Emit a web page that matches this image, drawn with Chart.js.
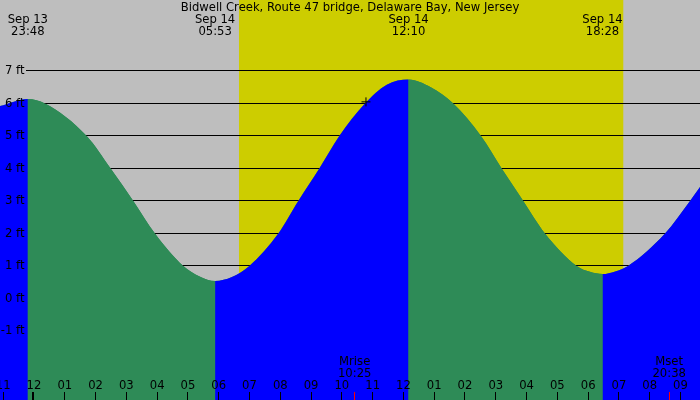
<!DOCTYPE html>
<html><head><meta charset="utf-8">
<script src="https://cdn.jsdelivr.net/npm/chart.js@4"></script>
<style>html,body{margin:0;padding:0;background:#bebebe}#wrap{width:700px;height:400px;position:relative}</style>
</head><body><div id="wrap"><canvas id="c"></canvas></div>
<script>
const TITLE = "Bidwell Creek, Route 47 bridge, Delaware Bay, New Jersey";
// times in hours relative to Sep 14 00:00, heights in ft
const tideTimes   = [-1.104, -0.2, 0.357, 1.712, 2.491, 3.226, 3.930, 4.850, 5.38, 5.883, 6.43, 6.994, 7.936, 8.585, 9.268, 9.917, 10.752, 11.46, 12.167, 12.89, 13.620, 14.520, 15.192, 15.894, 16.599, 17.629, 18.06, 18.467, 18.88, 19.295, 20.497, 21.309, 21.634];
const tideHeights = [5.92, 6.14, 6.0, 5.0, 4.0, 3.0, 2.0, 1.0, 0.68, 0.54, 0.66, 1.0, 2.0, 3.0, 4.0, 5.0, 6.0, 6.58, 6.74, 6.50, 6.0, 5.0, 4.0, 3.0, 2.0, 1.0, 0.82, 0.75, 0.83, 1.0, 2.0, 3.0, 3.43];
const extremeHours = [-0.2, 5.883, 12.167, 18.467];
const extremeDates = ["Sep 13", "Sep 14", "Sep 14", "Sep 14"];
const extremeTimes = ["23:48", "05:53", "12:10", "18:28"];
const hourTicks  = [-1,0,1,2,3,4,5,6,7,8,9,10,11,12,13,14,15,16,17,18,19,20,21];
const hourLabels = ["11","12","01","02","03","04","05","06","07","08","09","10","11","12","01","02","03","04","05","06","07","08","09"];
const depthTicks  = [-1,0,1,2,3,4,5,6,7];
const depthLabels = ["-1 ft","0 ft","1 ft","2 ft","3 ft","4 ft","5 ft","6 ft","7 ft"];
const sunRise = 6.659, sunSet = 19.142;
const moonEvents = [{name:"Mrise", time:"10:25", hour:10.417},{name:"Mset", time:"20:38", hour:20.633}];
const nowPoint = {x:10.784, y:6.05};

const BLUE = '#0000ff', GREEN = '#2e8b57', GREY = '#bebebe', YELLOW = '#cdcd00';
const FONT = '11.6px "DejaVu Sans"';
const tidePoints = tideTimes.map((t,i)=>({x:t, y:tideHeights[i]}));

const decor = {
  id:'decor',
  beforeDraw(chart){
    const {ctx, scales:{x}} = chart;
    ctx.save();
    ctx.fillStyle = GREY; ctx.fillRect(0,0,chart.width,chart.height);
    const x0 = x.getPixelForValue(sunRise), x1 = x.getPixelForValue(sunSet);
    ctx.fillStyle = YELLOW; ctx.fillRect(x0,0,x1-x0,chart.height);
    ctx.restore();
  },
  afterDatasetsDraw(chart){
    const {ctx, scales:{x,y}} = chart;
    // grid lines only in the region above the tide curve
    const line = chart.getDatasetMeta(1).dataset;
    ctx.save();
    ctx.beginPath();
    ctx.moveTo(0, 0);
    ctx.lineTo(0, y.getPixelForValue(tideHeights[0]));
    for (const seg of line.segments) line.pathSegment(ctx, seg, {move:false});
    ctx.lineTo(chart.width, y.getPixelForValue(tideHeights[tideHeights.length-1]));
    ctx.lineTo(chart.width, 0);
    ctx.closePath();
    ctx.clip();
    ctx.strokeStyle = '#000'; ctx.lineWidth = 1;
    depthTicks.forEach(v=>{
      const py = Math.floor(y.getPixelForValue(v)) + 0.5;
      ctx.beginPath(); ctx.moveTo(26,py); ctx.lineTo(chart.width,py); ctx.stroke();
    });
    ctx.restore();

    ctx.save();
    ctx.font = FONT; ctx.fillStyle = '#000'; ctx.textBaseline = 'middle';
    ctx.textAlign = 'right';
    depthTicks.forEach((v,i)=>{ ctx.fillText(depthLabels[i], 24.5, Math.floor(y.getPixelForValue(v)) + 0.5); });
    ctx.textAlign = 'center';
    hourTicks.forEach((h,i)=>{
      const px = x.getPixelForValue(h);
      ctx.fillText(hourLabels[i], px, 386);
      if (h === 0) ctx.fillRect(Math.floor(px)-1, 392, 2, 8);
      else ctx.fillRect(Math.floor(px), 392, 1, 8);
    });
    moonEvents.forEach(m=>{
      const px = x.getPixelForValue(m.hour);
      ctx.fillStyle = '#000';
      ctx.fillText(m.name, px, 362);
      ctx.fillText(m.time, px, 373.5);
      ctx.fillStyle = '#ff0000';
      ctx.fillRect(Math.floor(px), 392, 1, 8);
    });
    ctx.fillStyle = '#000';
    ctx.fillText(TITLE, 350, 8);
    extremeHours.forEach((h,i)=>{
      const px = x.getPixelForValue(h);
      ctx.fillText(extremeDates[i], px, 20);
      ctx.fillText(extremeTimes[i], px, 32);
    });
    ctx.restore();
  }
};

new Chart(document.getElementById('c'), {
  type:'line',
  data:{datasets:[
    {type:'scatter', data:[nowPoint], pointStyle:'cross', pointRadius:4.5, pointBorderColor:'#000', borderColor:'#000', pointBorderWidth:1, showLine:false, order:0, clip:false},
    {data: tidePoints, fill:'start', borderWidth:0, borderColor:'rgba(0,0,0,0)', pointRadius:0,
     cubicInterpolationMode:'monotone', backgroundColor:BLUE,
     segment:{backgroundColor: c => (c.p1.parsed.y >= c.p0.parsed.y ? BLUE : GREEN)}, order:1},
    // underlay so the joins between rising/falling fills leave no seam
    {data: tidePoints, fill:'start', borderWidth:0, borderColor:'rgba(0,0,0,0)', pointRadius:0,
     cubicInterpolationMode:'monotone', backgroundColor:GREEN, order:2}
  ]},
  options:{
    responsive:true, maintainAspectRatio:false, animation:false,
    layout:{padding:0, autoPadding:false},
    plugins:{legend:{display:false}, tooltip:{enabled:false}},
    scales:{
      x:{type:'linear', min:-1.104, max:21.634, display:false},
      y:{min:-3.1231, max:9.1846, display:false}
    }
  },
  plugins:[decor]
});
</script>
</body></html>
